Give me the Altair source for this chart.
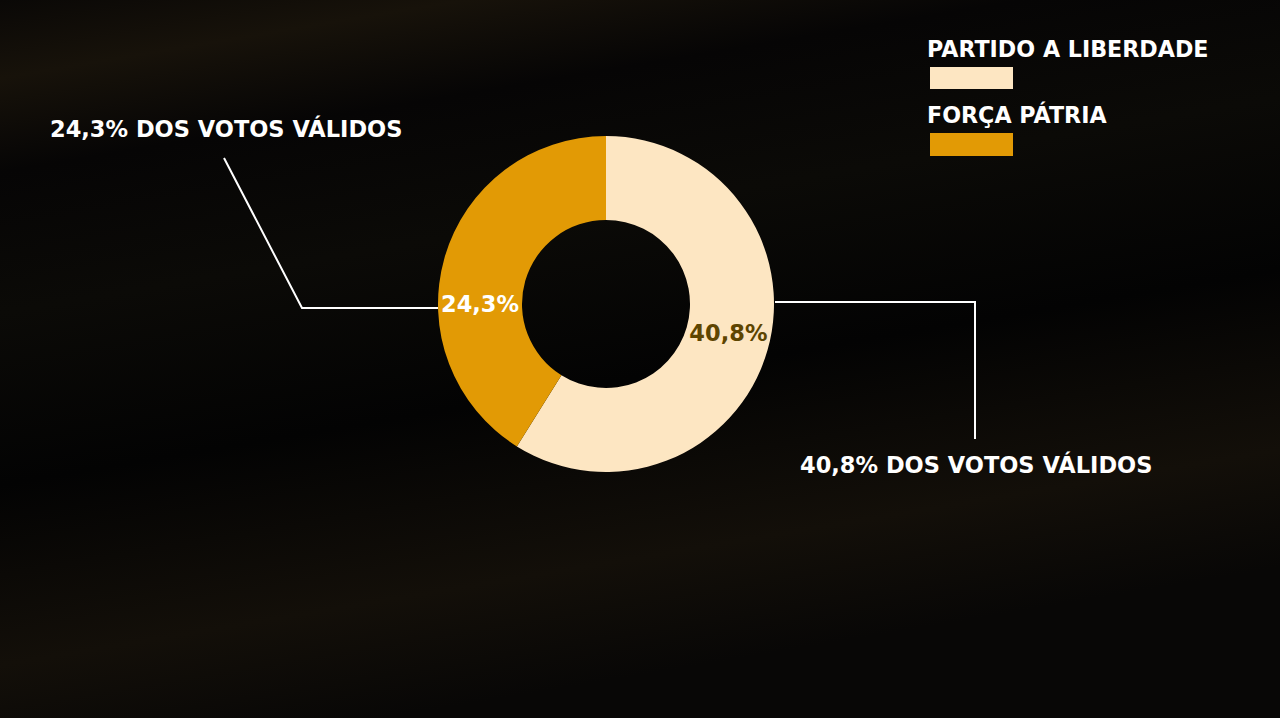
import altair as alt
import pandas as pd

# ---- chart values ----
parties = ["PARTIDO A LIBERDADE", "FORÇA PÁTRIA"]
vote_pct = [40.8, 24.3]
# share of the ring that each slice covers in the picture (cream ~212°, orange ~148°)
arc_share = [58.9, 41.1]
slice_labels = ["40,8%", "24,3%"]
callout_texts = ["40,8% DOS VOTOS VÁLIDOS", "24,3% DOS VOTOS VÁLIDOS"]

party_colors = ["#FDE6C2", "#E29A05"]

FONT = "DejaVu Sans"
W, H = 1280, 718
CX, CY = 606, 304

slices = pd.DataFrame({
    "idx": [0, 1],
    "party": parties,
    "pct": vote_pct,
    "share": arc_share,
    "label": slice_labels,
})

# annotation geometry in the page frame
leaders = pd.DataFrame({
    "line": ["l", "l", "l", "r", "r", "r"],
    "seq": [0, 1, 2, 0, 1, 2],
    "x": [224, 302, 438, 775, 975, 975],
    "y": [158, 308, 308, 302, 302, 439],
})
callouts = pd.DataFrame({
    "text": [callout_texts[1], callout_texts[0]],
    "x": [50, 800],
    "y": [137, 473],
})
legend_text = pd.DataFrame({"text": parties, "x": [927, 927], "y": [57, 123]})
legend_sw = pd.DataFrame({
    "party": parties,
    "x": [930, 930], "x2": [1013, 1013],
    "y": [67, 133], "y2": [89, 156],
})

xs = alt.Scale(domain=[0, W], nice=False, zero=False)
ys = alt.Scale(domain=[0, H], nice=False, zero=False, reverse=True)

bg = alt.Chart(pd.DataFrame({"a": [0]})).mark_rect(
    fill={
        "gradient": "linear", "x1": 0, "y1": 0, "x2": 0.3, "y2": 1,
        "stops": [
            {"offset": 0.0, "color": "#0a0806"},
            {"offset": 0.10, "color": "#17120a"},
            {"offset": 0.22, "color": "#060505"},
            {"offset": 0.40, "color": "#0b0a07"},
            {"offset": 0.62, "color": "#030303"},
            {"offset": 0.85, "color": "#130f09"},
            {"offset": 1.0, "color": "#080706"},
        ],
    }
).encode(x=alt.value(0), x2=alt.value(W), y=alt.value(0), y2=alt.value(H))

ring = alt.Chart(slices).mark_arc(innerRadius=84, outerRadius=168).encode(
    theta=alt.Theta("share:Q", stack=True),
    order=alt.Order("idx:Q"),
    color=alt.Color("party:N", scale=alt.Scale(domain=parties, range=party_colors), legend=None),
    x=alt.X(datum=CX, scale=xs, axis=None),
    y=alt.Y(datum=CY, scale=ys, axis=None),
)


def slice_label(which, color, theta_offset):
    return alt.Chart(slices).transform_calculate(
        shown=f"datum.idx == {which} ? datum.label : ''"
    ).mark_text(
        radius=126, thetaOffset=theta_offset, font=FONT, fontSize=22.5, fontWeight="bold",
        align="center", baseline="middle", color=color,
    ).encode(
        theta=alt.Theta("share:Q", stack=True),
        order=alt.Order("idx:Q"),
        text="shown:N",
        x=alt.X(datum=CX, scale=xs, axis=None),
        y=alt.Y(datum=CY, scale=ys, axis=None),
    )


label_cream = slice_label(0, "#5E4500", -0.04)
label_orange = slice_label(1, "#FFFFFF", -0.29)

lines = alt.Chart(leaders).mark_line(color="white", strokeWidth=2).encode(
    x=alt.X("x:Q", scale=xs, axis=None),
    y=alt.Y("y:Q", scale=ys, axis=None),
    detail="line:N",
    order="seq:Q",
)

callout_marks = alt.Chart(callouts).mark_text(
    font=FONT, fontSize=22.5, fontWeight="bold", color="white", align="left", baseline="alphabetic"
).encode(
    x=alt.X("x:Q", scale=xs, axis=None),
    y=alt.Y("y:Q", scale=ys, axis=None),
    text="text:N",
)

legend_labels = alt.Chart(legend_text).mark_text(
    font=FONT, fontSize=22.2, fontWeight="bold", color="white", align="left", baseline="alphabetic"
).encode(
    x=alt.X("x:Q", scale=xs, axis=None),
    y=alt.Y("y:Q", scale=ys, axis=None),
    text="text:N",
)

legend_swatches = alt.Chart(legend_sw).mark_rect().encode(
    x=alt.X("x:Q", scale=xs, axis=None),
    x2="x2:Q",
    y=alt.Y("y:Q", scale=ys, axis=None),
    y2="y2:Q",
    color=alt.Color("party:N", scale=alt.Scale(domain=parties, range=party_colors), legend=None),
)

chart = alt.layer(
    bg, ring, label_cream, label_orange, lines, callout_marks, legend_labels, legend_swatches
).properties(
    width=W, height=H, padding=0, autosize=alt.AutoSizeParams(type="none"),
    background="#050404",
).configure_view(stroke=None)

chart.save("out.html", embed_options={"renderer": "svg", "actions": False})
